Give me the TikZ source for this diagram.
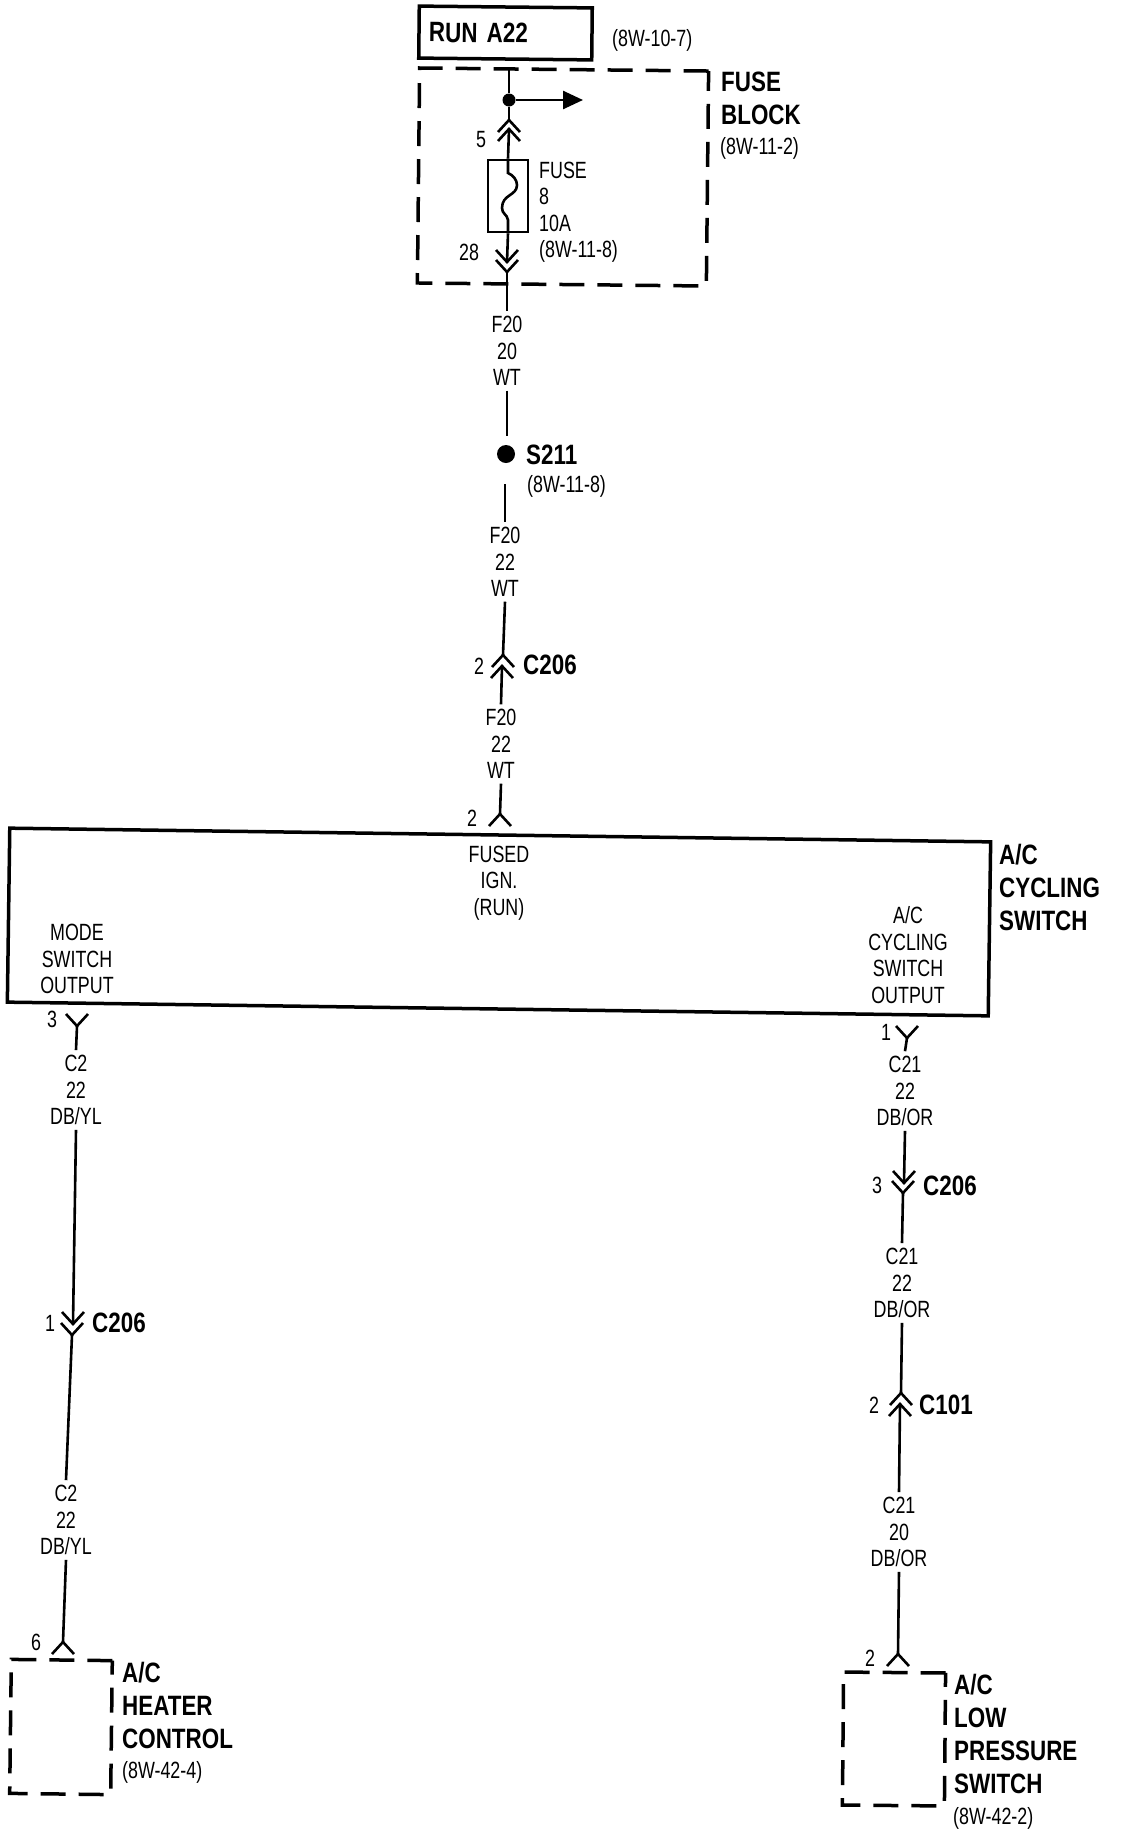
\documentclass[tikz,border=0pt]{standalone}
\usepackage{fontspec}
\setmainfont{Liberation Sans}[FakeStretch=0.76, BoldFeatures={FakeStretch=0.8}]
\usetikzlibrary{calc, arrows.meta, positioning}
\tikzset{
    wire/.style = {black, line width=2.6pt},
    boxnode/.style = {draw, rectangle, line width=3.5pt, inner sep=0pt},
    dashnode/.style = {draw, rectangle, line width=3.5pt, inner sep=0pt, dash pattern=on 25pt off 13pt},
    dotnode/.style = {draw=none, fill=black, circle, inner sep=0pt},
    textnode/.style = {draw=none, inner sep=0pt, align=center, font=\fontsize{23.5}{26.5}\selectfont},
    wirelabel/.style = {textnode, outer sep=5pt},
    pinnode/.style = {textnode},
    leftnode/.style = {textnode, anchor=west, align=left},
    boldnode/.style = {draw=none, inner sep=0pt, anchor=west, align=left, font=\fontsize{28}{33}\selectfont\bfseries}
}
\newcommand{\wingsdn}[1]{\draw [wire] ($(#1)+(-11,12)$) -- (#1) -- ($(#1)+(11,12)$);}
\newcommand{\wingsup}[1]{\draw [wire] ($(#1)+(-11,-12)$) -- (#1) -- ($(#1)+(11,-12)$);}

\begin{document}
\begin{tikzpicture}[x=1pt, y=-1pt]
    \useasboundingbox (0,0) rectangle (1120,1834);

    % fuse block
    \node [name=run, boxnode, minimum width=173pt, minimum height=52pt, text width=153pt, rotate=-0.6,
        font=\fontsize{28}{33}\selectfont\bfseries, align=left] at (505.5,33) {RUN A22};
    \node [name=runref, leftnode] at (612,40) {(8W-10-7)};
    \node [name=block, dashnode, minimum width=289pt, minimum height=215pt, rotate=-0.6] at (563,177) {};
    \node [name=blockname, boldnode] at (721,98.5) {FUSE\\BLOCK};
    \node [name=blockref, leftnode] at (720,148) {(8W-11-2)};
    \coordinate (feed) at (509,70);
    \node [name=split, dotnode, minimum size=13pt] at (509,100) {};
    \coordinate (tap) at (583,100);
    \coordinate (pin5a) at (509,120);
    \coordinate (pin5b) at (509,129);
    \node [name=fuse8, boxnode, line width=2.6pt, minimum width=40pt, minimum height=72pt] at (508,196) {};
    \node [name=fuselabel, leftnode] at (539,212) {FUSE\\8\\10A\\(8W-11-8)};
    \node [name=pin5, pinnode] at (481,140) {5};
    \node [name=pin28, pinnode] at (469,252) {28};
    \coordinate (pin28a) at (507,262);
    \coordinate (pin28b) at (507,272);
    \draw [wire] (feed) -- (split);
    \draw [wire, -{Triangle[length=20pt, width=18pt]}] (split) -- (tap);
    \draw [wire] (split) -- (pin5a);
    \draw [wire] (pin5b) -- (fuse8.north);
    \wingsdn{pin5a}
    \wingsdn{pin5b}
    \draw [wire] (fuse8.north) -- (508,173) .. controls (513,175) and (517,180) .. (517,185)
        .. controls (517,196) and (502,194) .. (502,208) .. controls (502,214) and (507,214) .. (508,220) -- (fuse8.south);
    \draw [wire] (fuse8.south) -- (pin28a);
    \wingsup{pin28a}
    \wingsup{pin28b}

    % feed down to the switch
    \node [name=f20a, wirelabel] at (507,351) {F20\\20\\WT};
    \draw [wire] (pin28b) -- (f20a.north);
    \node [name=s211, dotnode, minimum size=18pt] at (506,454) {};
    \coordinate (s211in) at (507,436);
    \coordinate (s211out) at (505,484);
    \node [name=s211name, boldnode] at (526,455) {S211};
    \node [name=s211ref, leftnode] at (527,486) {(8W-11-8)};
    \draw [wire] (f20a.south) -- (s211in);
    \node [name=f20b, wirelabel] at (505,562) {F20\\22\\WT};
    \draw [wire] (s211out) -- (f20b.north);
    \coordinate (c206a) at (503,655);
    \coordinate (c206b) at (502,666);
    \node [name=c206pin, pinnode] at (479,666) {2};
    \node [name=c206name, boldnode] at (523,665) {C206};
    \draw [wire] (f20b.south) -- (c206a);
    \wingsdn{c206a}
    \wingsdn{c206b}
    \node [name=f20c, wirelabel] at (501,744) {F20\\22\\WT};
    \draw [wire] (c206b) -- (f20c.north);
    \coordinate (pin2) at (500,814);
    \node [name=pin2num, pinnode] at (472,818) {2};
    \draw [wire] (f20c.south) -- (pin2);
    \wingsdn{pin2}

    % switch
    \node [name=switch, boxnode, minimum width=981pt, minimum height=174pt, rotate=-0.8] at (499,922) {};
    \node [name=switchname, boldnode] at (999,887) {A/C\\CYCLING\\SWITCH};
    \node [name=fused, textnode] at (499,883) {FUSED\\IGN.\\(RUN)};
    \node [name=mode, textnode] at (77,959) {MODE\\SWITCH\\OUTPUT};
    \node [name=cycling, textnode] at (908,955) {A/C\\CYCLING\\SWITCH\\OUTPUT};

    % left branch
    \coordinate (pin3) at (77,1026);
    \node [name=pin3num, pinnode] at (52,1019) {3};
    \node [name=c2a, wirelabel] at (76,1090) {C2\\22\\DB/YL};
    \draw [wire] (pin3) -- (c2a.north);
    \wingsup{pin3}
    \coordinate (c206c) at (73,1324);
    \coordinate (c206d) at (72,1335);
    \node [name=c206cpin, pinnode] at (50,1323) {1};
    \node [name=c206cname, boldnode] at (92,1323) {C206};
    \draw [wire] (c2a.south) -- (c206c);
    \wingsup{c206c}
    \wingsup{c206d}
    \node [name=c2b, wirelabel] at (66,1520) {C2\\22\\DB/YL};
    \draw [wire] (c206d) -- (c2b.north);
    \coordinate (pin6) at (63,1642);
    \node [name=pin6num, pinnode] at (36,1642) {6};
    \draw [wire] (c2b.south) -- (pin6);
    \wingsdn{pin6}
    \node [name=heater, dashnode, minimum width=101pt, minimum height=134pt, rotate=-0.7] at (61,1727) {};
    \node [name=heatername, boldnode] at (122,1705) {A/C\\HEATER\\CONTROL};
    \node [name=heaterref, leftnode] at (122,1772) {(8W-42-4)};

    % right branch
    \coordinate (pin1) at (907,1038);
    \node [name=pin1num, pinnode] at (886,1032) {1};
    \node [name=c21a, wirelabel] at (905,1091) {C21\\22\\DB/OR};
    \draw [wire] (pin1) -- (c21a.north);
    \wingsup{pin1}
    \coordinate (c206e) at (904,1183);
    \coordinate (c206f) at (903,1193);
    \node [name=c206epin, pinnode] at (877,1185) {3};
    \node [name=c206ename, boldnode] at (923,1186) {C206};
    \draw [wire] (c21a.south) -- (c206e);
    \wingsup{c206e}
    \wingsup{c206f}
    \node [name=c21b, wirelabel] at (902,1283) {C21\\22\\DB/OR};
    \draw [wire] (c206f) -- (c21b.north);
    \coordinate (c101a) at (901,1393);
    \coordinate (c101b) at (900,1404);
    \node [name=c101pin, pinnode] at (874,1405) {2};
    \node [name=c101name, boldnode] at (919,1405) {C101};
    \draw [wire] (c21b.south) -- (c101a);
    \wingsdn{c101a}
    \wingsdn{c101b}
    \node [name=c21c, wirelabel] at (899,1532) {C21\\20\\DB/OR};
    \draw [wire] (c101b) -- (c21c.north);
    \coordinate (pin2b) at (898,1654);
    \node [name=pin2bnum, pinnode] at (870,1658) {2};
    \draw [wire] (c21c.south) -- (pin2b);
    \wingsdn{pin2b}
    \node [name=lowpress, dashnode, minimum width=102pt, minimum height=133pt, rotate=-0.5] at (894,1739) {};
    \node [name=lowpressname, boldnode] at (954,1734) {A/C\\LOW\\PRESSURE\\SWITCH};
    \node [name=lowpressref, leftnode] at (953,1818) {(8W-42-2)};
\end{tikzpicture}
\end{document}
